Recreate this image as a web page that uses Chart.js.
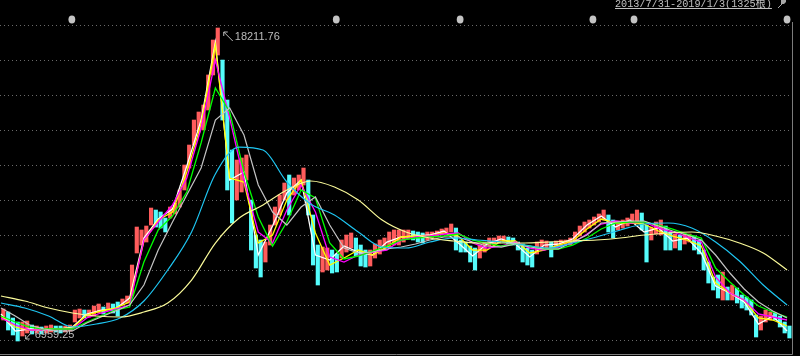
<!DOCTYPE html>
<html><head><meta charset="utf-8">
<script src="https://cdn.jsdelivr.net/npm/chart.js@4.4.0/dist/chart.umd.min.js"></script>
<style>html,body{margin:0;padding:0;background:#000;overflow:hidden}#wrap{width:800px;height:356px;position:relative}</style>
</head><body><div id="wrap"><canvas id="c" width="800" height="356"></canvas></div>
<script>
const titleText = '2013/7/31-2019/1/3(1325根)';
const totalBars = 1325;
const binDays = 8;   // each candle bin summarises 8 trading days
const highs = [8109,8002,7786,7642,7642,7678,7534,7498,7462,7498,
 7534,7498,7498,7498,7534,8073,8109,8073,8073,8217,
 8289,8181,8325,8289,8361,8469,8577,9691,11057,10950,
 11093,11740,11668,11597,11381,11776,11920,12388,13286,14005,
 14904,15192,15443,16523,17780,18211.76,17060,15623,13825,13466,
 13538,13646,12028,10770,10590,10518,11129,11776,12208,12639,
 12927,12819,12927,13178,12747,11489,10410,10338,10302,10230,
 10087,10590,10770,10842,10662,10410,10230,10230,10446,10590,
 10662,10878,10950,10950,10950,10950,10914,10878,10842,10878,
 10878,10914,10985,11021,11165,11021,10590,10518,10374,10302,
 10410,10518,10662,10662,10734,10734,10698,10662,10518,10446,
 10302,10230,10518,10590,10554,10518,10554,10590,10590,10662,
 10878,11093,11237,11309,11417,11525,11668,11489,11309,11273,
 11309,11381,11525,11668,11561,11129,11057,11237,11309,11093,
 10878,10806,10770,10806,10806,10734,10590,10230,9799,9260,
 9332,9440,8900,8972,8864,8613,8541,8433,7894,7858,
 8073,8002,7966,7858,7642,7498];
const lows = [7714,7354,7175,6959.25,7139,7247,7211,7247,7211,7247,
 7282,7282,7247,7282,7318,7642,7786,7786,7822,7858,
 7966,7930,8073,7966,7858,8253,8325,8577,10123,10410,
 10518,11129,11057,11021,10878,11381,11525,11776,12388,13178,
 14005,14473,14545,15264,16523,17241,14904,12388,11201,12028,
 12316,12747,10230,9583,9260,9799,10410,11129,11489,12028,
 11489,12208,12388,12567,11489,9691,8972,9440,9511,9404,
 9440,9943,10158,10302,10015,9655,9619,9655,9943,10087,
 10230,10338,10410,10410,10518,10626,10590,10518,10482,10590,
 10662,10698,10770,10806,10878,10230,10158,10158,9799,9511,
 9943,10158,10374,10410,10482,10518,10446,10410,10230,9799,
 9691,9619,10087,10230,10302,9979,10302,10374,10410,10410,
 10518,10734,10878,11021,11129,11237,11309,10878,10662,10950,
 11021,11093,11237,11237,10950,9799,10590,10806,10770,10230,
 10230,10302,10230,10446,10518,10230,10087,9511,9044,8792,
 8505,8433,8433,8433,8325,8145,8073,7894,7103,7354,
 7642,7714,7714,7462,7247,7067];

const shortStep = 24; // moving averages read every 24 bars
const ma5 = [7930,7318,7390,7354,7390,7462,7930,8073,8109,8505,10662,11345,11704,13250,14904,17708,12747,13035,10051,11093,12280,12747,10051,9871,10374,10158,10051,10518,10698,10734,10770,10914,10482,10015,10446,10626,10446,9979,10410,10446,10626,11129,11453,11057,11309,10878,11021,10554,10662,10123,8936,8685,8361,7570,7858,7318];
const ma10 = [7858,7462,7354,7354,7390,7426,7894,8038,8145,8361,10554,11309,11597,13035,14760,17600,12819,12675,10482,10770,12028,12747,10842,9691,9943,10230,10051,10338,10698,10734,10734,10842,10734,10230,10230,10554,10554,10123,10230,10410,10554,10985,11345,11201,11201,11165,10914,10734,10590,10374,9044,8685,8433,7786,7714,7498];
const ma20 = [7786,7534,7354,7354,7390,7390,7786,7966,8109,8253,10590,11237,11848,12819,14616,17060,14976,12747,10878,10482,11668,12567,11597,9979,9799,10051,10158,10230,10590,10698,10734,10806,10842,10482,10302,10374,10518,10302,10230,10338,10482,10806,11165,11273,11201,11237,11021,10878,10698,10518,9260,8685,8433,7930,7822,7714];
const ma30 = [7858,7642,7462,7390,7390,7390,7642,7858,8073,8181,9799,10950,11453,12316,14077,16054,15192,13035,11417,10374,11237,12388,12100,10482,9907,10015,10194,10374,10590,10662,10698,10734,10806,10590,10482,10374,10446,10374,10266,10266,10410,10662,10985,11201,11237,11237,11129,10985,10806,10662,9583,9080,8613,8217,8002,7822];
const ma60 = [8145,7858,7534,7390,7318,7318,7606,7822,8038,8253,8972,10230,11237,12208,13178,14904,15335,14365,12567,11597,11129,11776,12136,11129,10302,10123,10158,10266,10338,10446,10590,10698,10698,10518,10374,10338,10446,10338,10266,10266,10518,10770,11201,11237,11273,11273,11093,10914,10770,10590,10051,9404,8828,8361,8038,7786];
const longStep = 40;
const ma120 = [8325,8145,7858,7462,7570,7786,8397,9511,10878,12963,13933,13825,12675,11884,11489,10878,10338,10302,10518,10662,10590,10518,10410,10302,10482,10698,10950,11165,11201,11021,10518,9835,8972,8253];
const ma250 = [8577,8397,8145,7966,7858,7822,8002,8325,9152,10482,11381,11848,12388,12711,12495,12028,11309,10878,10662,10554,10482,10482,10482,10518,10554,10590,10662,10770,10842,10878,10734,10482,10123,9511];
const markerDays = [119,563,771,994,1063,1320];
const yMin = 6492, yMax = 18320;

const candleData = highs.map((h,i)=>({x:i*binDays+binDays/2, y:[lows[i],h]}));
const candleColors = highs.map((h,i)=>{
  const m=(h+lows[i])/2, p=i>0?(highs[i-1]+lows[i-1])/2:m;
  return m>=p?'#ff5c5c':'#54fcfc';
});
function line(arr, step, color, order, smooth, width){
  return {type:'line', data:arr.map((v,i)=>({x:Math.min(i*step,totalBars-1), y:v})),
    borderColor:color, borderWidth:width, pointRadius:0, order:order,
    tension: smooth?0.4:0, cubicInterpolationMode: smooth?'monotone':'default'};
}

const overlay = {
  id:'overlay',
  beforeDraw(chart){
    const ctx=chart.ctx, a=chart.chartArea;
    ctx.save();
    ctx.fillStyle='#000'; ctx.fillRect(0,0,chart.width,chart.height);
    ctx.strokeStyle='#6a6a6a'; ctx.lineWidth=1; ctx.setLineDash([1,3]);
    for(let i=0;i<10;i++){
      const y=Math.round(a.top+i*35)+0.5;
      ctx.beginPath(); ctx.moveTo(a.left,y); ctx.lineTo(a.right,y); ctx.stroke();
    }
    ctx.setLineDash([]);
    ctx.strokeStyle='#7c7c7c';
    ctx.beginPath(); ctx.moveTo(a.left,a.bottom+0.5); ctx.lineTo(a.right+0.5,a.bottom+0.5); ctx.lineTo(a.right+0.5,22); ctx.stroke();
    ctx.restore();
  },
  afterDatasetsDraw(chart){
    const ctx=chart.ctx, xs=chart.scales.x, ys=chart.scales.y;
    ctx.save();
    ctx.fillStyle='#c4c4c4';
    markerDays.forEach(d=>{
      const x=xs.getPixelForValue(d);
      ctx.beginPath(); ctx.ellipse(x,19.5,3.4,4,0,0,Math.PI*2); ctx.fill();
    });
    let hi=0, lo=0;
    highs.forEach((v,i)=>{ if(v>highs[hi]) hi=i; });
    lows.forEach((v,i)=>{ if(v<lows[lo]) lo=i; });
    const hx=xs.getPixelForValue(hi*binDays+binDays/2), hy=ys.getPixelForValue(highs[hi]);
    const lx=xs.getPixelForValue(lo*binDays+binDays/2), ly=ys.getPixelForValue(lows[lo]);
    ctx.strokeStyle='#bcbcbc'; ctx.fillStyle='#bcbcbc'; ctx.lineWidth=1;
    let tx=hx+6, ty=hy+4;
    ctx.beginPath(); ctx.moveTo(tx+9,ty+9); ctx.lineTo(tx,ty); ctx.moveTo(tx,ty); ctx.lineTo(tx+4,ty); ctx.moveTo(tx,ty); ctx.lineTo(tx,ty+4); ctx.stroke();
    ctx.font='11px "Liberation Sans", Arial, sans-serif'; ctx.textBaseline='middle'; ctx.textAlign='left';
    ctx.fillText(highs[hi].toFixed(2), hx+17, hy+9);
    tx=lx+8; ty=ly-2;
    ctx.beginPath(); ctx.moveTo(tx+7,ty-8); ctx.lineTo(tx,ty); ctx.moveTo(tx,ty); ctx.lineTo(tx+4,ty); ctx.moveTo(tx,ty); ctx.lineTo(tx,ty-4); ctx.stroke();
    ctx.fillText(lows[lo].toFixed(2), lx+17, ly-6);
    ctx.font='10.2px "Liberation Mono","Noto Sans CJK SC",monospace'; ctx.textBaseline='alphabetic';
    ctx.fillStyle='#c0c0c0';
    const w=ctx.measureText(titleText).width;
    ctx.fillText(titleText,615,7);
    ctx.strokeStyle='#c0c0c0'; ctx.beginPath(); ctx.moveTo(615,8.5); ctx.lineTo(615+w,8.5); ctx.stroke();
    ctx.fillStyle='#a8a8a8'; ctx.strokeStyle='#a8a8a8';
    ctx.beginPath(); ctx.moveTo(781,0); ctx.lineTo(786,0); ctx.lineTo(786,2); ctx.lineTo(784,4); ctx.lineTo(781,4); ctx.closePath(); ctx.fill();
    ctx.beginPath(); ctx.moveTo(782,4); ctx.lineTo(778,8); ctx.stroke();
    ctx.restore();
  }
};

new Chart(document.getElementById('c'), {
  type:'bar',
  data:{datasets:[
    line(ma250,longStep,'#fbfb9a',1,true,1.2),
    line(ma120,longStep,'#1ec6f2',2,true,1.2),
    line(ma60,shortStep,'#c4c4c4',3,false,1.2),
    line(ma30,shortStep,'#00ff00',4,false,1.3),
    line(ma20,shortStep,'#ff00ff',5,false,1.3),
    line(ma10,shortStep,'#ffff00',6,false,1.3),
    line(ma5,shortStep,'#ffffff',7,false,1.3),
    {type:'bar', data:candleData, backgroundColor:candleColors, borderWidth:0, barThickness:3.5, order:20}
  ]},
  options:{
    responsive:false, animation:false, devicePixelRatio:1,
    layout:{padding:{left:0,right:8,top:25,bottom:2}},
    plugins:{legend:{display:false},tooltip:{enabled:false}},
    scales:{
      x:{type:'linear', min:-1.68, max:1328.3, offset:false, display:false},
      y:{min:yMin, max:yMax, display:false}
    }
  },
  plugins:[overlay]
});
</script></body></html>
